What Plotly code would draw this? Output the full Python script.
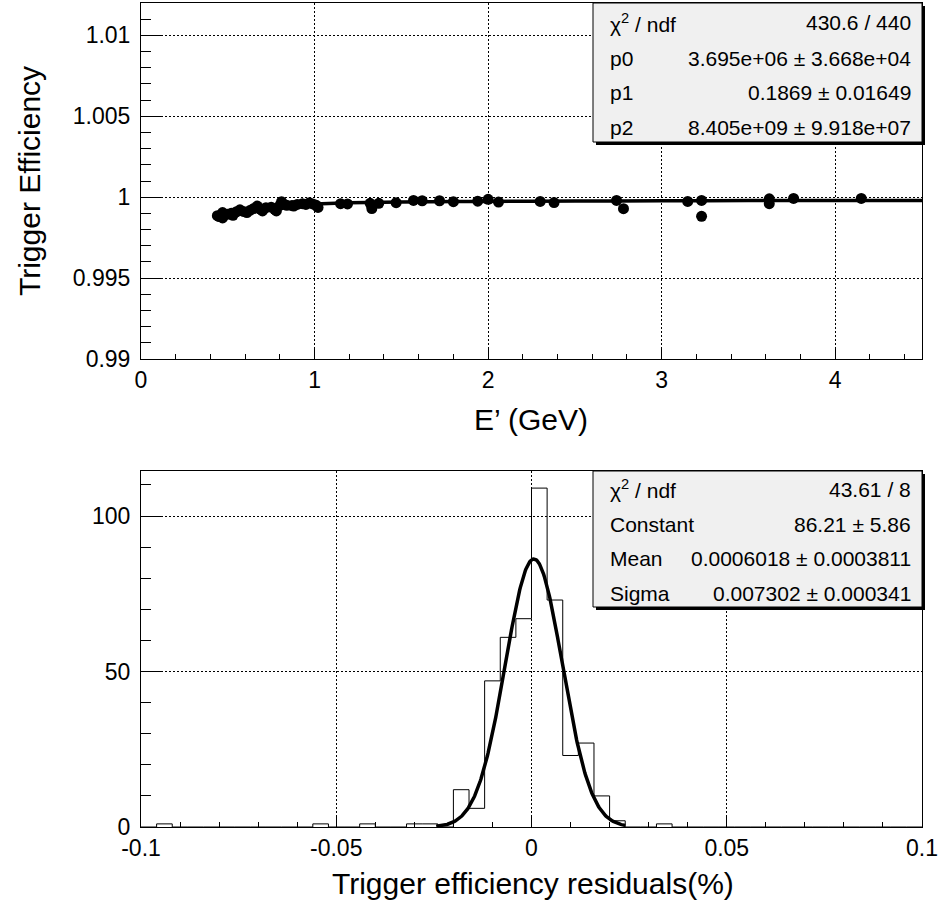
import numpy as np
import plotly.graph_objects as go

# ---------------- data ----------------
# Top panel: trigger efficiency vs E' (GeV)
e_prime = [0.44, 0.45, 0.47, 0.47, 0.50, 0.52, 0.53, 0.55, 0.57, 0.59,
           0.61, 0.63, 0.65, 0.67, 0.69, 0.70, 0.72, 0.75, 0.77, 0.78,
           0.80, 0.81, 0.84, 0.87, 0.88, 0.90, 0.93, 0.95, 0.97, 0.99,
           1.01, 1.02, 1.15, 1.19, 1.32, 1.33, 1.37, 1.47, 1.57, 1.62,
           1.72, 1.80, 1.94, 2.00, 2.06, 2.30, 2.38, 2.74, 2.78, 3.15,
           3.23, 3.23, 3.62, 3.62, 3.76, 4.15]
efficiency = [0.99886, 0.99880, 0.99872, 0.99905, 0.99895, 0.99900, 0.99888, 0.99910, 0.99922, 0.99912,
              0.99905, 0.99920, 0.99930, 0.99945, 0.99925, 0.99915, 0.99935, 0.99938, 0.99925, 0.99915,
              0.99950, 0.99972, 0.99950, 0.99948, 0.99945, 0.99955, 0.99960, 0.99955, 0.99965, 0.99958,
              0.99950, 0.99937, 0.99960, 0.99958, 0.99962, 0.99930, 0.99962, 0.99966, 0.99980, 0.99978,
              0.99978, 0.99972, 0.99975, 0.99987, 0.99970, 0.99974, 0.99967, 0.99980, 0.99929, 0.99974,
              0.99980, 0.99882, 0.99990, 0.99960, 0.99992, 0.99992]

# Fit curve of the top panel
fit_e = [0.43, 0.5, 0.6, 0.7, 0.8, 0.9, 1.0, 1.2, 1.5, 2.0, 2.5, 3.0, 3.5, 4.0, 4.5]
fit_eff = [0.99885, 0.99900, 0.99918, 0.99932, 0.99943, 0.99952, 0.99958, 0.99965,
           0.99970, 0.99974, 0.99976, 0.99978, 0.99979, 0.99980, 0.99980]

# Bottom panel: histogram of residuals, 50 bins on [-0.1, 0.1]
hist_lo, hist_hi, n_bins = -0.1, 0.1, 50
hist_counts = [0, 1, 0, 0, 0, 0, 0, 0, 0, 0,
               0, 1, 0, 0, 1, 0, 0, 1, 1, 0,
               12, 6, 47, 61, 67, 109, 73, 23, 27, 10,
               2, 0, 0, 1, 0, 0, 0, 0, 0, 0,
               0, 0, 0, 0, 0, 0, 0, 0, 0, 0]

# Gaussian fit parameters (as printed in the stats box)
gaus_const, gaus_mean, gaus_sigma = 86.21, 0.0006018, 0.007302
gaus_range = (-0.0244, 0.024)

top_stats = [("χ<sup>2</sup> / ndf", "430.6 / 440"),
             ("p0", "3.695e+06 ± 3.668e+04"),
             ("p1", "0.1869 ± 0.01649"),
             ("p2", "8.405e+09 ± 9.918e+07")]
bot_stats = [("χ<sup>2</sup> / ndf", "43.61 / 8"),
             ("Constant", "86.21 ± 5.86"),
             ("Mean", "0.0006018 ± 0.0003811"),
             ("Sigma", "0.007302 ± 0.000341")]

top_xticks = [0, 1, 2, 3, 4]
top_xtext = ["0", "1", "2", "3", "4"]
top_yticks = [0.99, 0.995, 1.0, 1.005, 1.01]
top_ytext = ["0.99", "0.995", "1", "1.005", "1.01"]
bot_xticks = [-0.1, -0.05, 0, 0.05, 0.1]
bot_xtext = ["-0.1", "-0.05", "0", "0.05", "0.1"]
bot_yticks = [0, 50, 100]
bot_ytext = ["0", "50", "100"]

# ---------------- layout geometry (pixels) ----------------
W, H = 941, 907
L, R, T, B = 141, 922, 3, 827
PW, PH = R - L, B - T


def px(x):
    return (x - L) / PW


def py(y):
    return (B - y) / PH


FONT = "Liberation Sans, Arial, Helvetica, sans-serif"

fig = go.Figure()

# top panel
fig.add_trace(go.Scatter(x=fit_e, y=fit_eff, mode="lines", line=dict(color="black", width=3.5, shape="spline"),
                         xaxis="x", yaxis="y", showlegend=False, hoverinfo="skip"))
fig.add_trace(go.Scatter(x=e_prime, y=efficiency, mode="markers",
                         marker=dict(color="black", size=11), xaxis="x", yaxis="y", showlegend=False))

# bottom panel histogram (step outline)
edges = np.linspace(hist_lo, hist_hi, n_bins + 1)
step_y = list(hist_counts) + [hist_counts[-1]]
fig.add_trace(go.Scatter(x=edges, y=step_y, mode="lines", line=dict(color="black", width=1, shape="hv"),
                         xaxis="x2", yaxis="y2", showlegend=False))
gx = np.linspace(gaus_range[0], gaus_range[1], 300)
gy = gaus_const * np.exp(-0.5 * ((gx - gaus_mean) / gaus_sigma) ** 2)
fig.add_trace(go.Scatter(x=gx, y=gy, mode="lines", line=dict(color="black", width=3.5),
                         xaxis="x2", yaxis="y2", showlegend=False))

axis_common = dict(showline=True, linecolor="black", linewidth=1, mirror=True,
                   ticks="inside", tickcolor="black", tickwidth=1,
                   showgrid=True, gridcolor="black", gridwidth=1, griddash="2px,2px",
                   zeroline=False, tickfont=dict(family=FONT, size=23, color="black"),
                   tickmode="array")

fig.update_layout(
    width=W, height=H,
    margin=dict(l=L, r=W - R, t=T, b=H - B),
    paper_bgcolor="white", plot_bgcolor="white",
    font=dict(family=FONT, color="black"),
    xaxis=dict(domain=[0, 1], range=[0, 4.5], anchor="y", tickvals=top_xticks, ticktext=top_xtext,
               ticklen=10, ticklabelstandoff=0,
               minor=dict(ticks="inside", ticklen=5, dtick=0.2, tick0=0, tickcolor="black", showgrid=False),
               **axis_common),
    yaxis=dict(domain=[py(359), 1], range=[0.99, 1.012], anchor="x", tickvals=top_yticks, ticktext=top_ytext,
               ticklen=20, ticklabelstandoff=5,
               minor=dict(ticks="inside", ticklen=10, dtick=0.001, tick0=0.99, tickcolor="black", showgrid=False),
               **axis_common),
    xaxis2=dict(domain=[0, 1], range=[hist_lo, hist_hi], anchor="y2", tickvals=bot_xticks, ticktext=bot_xtext,
                ticklen=10, ticklabelstandoff=0,
                minor=dict(ticks="inside", ticklen=5, dtick=0.01, tick0=-0.1, tickcolor="black", showgrid=False),
                **axis_common),
    yaxis2=dict(domain=[0, py(471)], range=[0, 114.5], anchor="x2", tickvals=bot_yticks, ticktext=bot_ytext,
                ticklen=20, ticklabelstandoff=5,
                minor=dict(ticks="inside", ticklen=10, dtick=10, tick0=0, tickcolor="black", showgrid=False),
                **axis_common),
)

shapes = []
annotations = []


def stats_box(x0, y0, x1, y1, rows, row_ys):
    shapes.append(dict(type="rect", xref="paper", yref="paper",
                       x0=px(x0 + 3), x1=px(x1 + 3), y0=py(y1 + 3), y1=py(y0 + 3),
                       fillcolor="black", line=dict(width=0), layer="above"))
    shapes.append(dict(type="rect", xref="paper", yref="paper",
                       x0=px(x0), x1=px(x1), y0=py(y1), y1=py(y0),
                       fillcolor="#f0f0f0", line=dict(color="black", width=1), layer="above"))
    for (lab, val), yy in zip(rows, row_ys):
        annotations.append(dict(xref="paper", yref="paper", x=px(x0 + 15), y=py(yy), text=lab,
                                showarrow=False, xanchor="left", yanchor="middle",
                                font=dict(family=FONT, size=21, color="black")))
        annotations.append(dict(xref="paper", yref="paper", x=px(x1 - 9), y=py(yy), text=val,
                                showarrow=False, xanchor="right", yanchor="middle",
                                font=dict(family=FONT, size=21, color="black")))


stats_box(593, 3, 922, 142, top_stats, [23, 58, 93, 128])
stats_box(593, 471, 922, 607, bot_stats, [489, 524, 559, 593])

# axis titles
annotations.append(dict(xref="paper", yref="paper", x=px(531), y=py(419), text="E’ (GeV)", showarrow=False,
                        xanchor="center", yanchor="middle", font=dict(family=FONT, size=30, color="black")))
annotations.append(dict(xref="paper", yref="paper", x=px(533), y=py(884), text="Trigger efficiency residuals(%)",
                        showarrow=False, xanchor="center", yanchor="middle",
                        font=dict(family=FONT, size=30, color="black")))
annotations.append(dict(xref="paper", yref="paper", x=px(29), y=py(181), text="Trigger Efficiency", showarrow=False,
                        textangle=-90, xanchor="center", yanchor="middle",
                        font=dict(family=FONT, size=30, color="black")))

fig.update_layout(shapes=shapes, annotations=annotations)

fig.write_html("out.html", config={"displayModeBar": False},
               post_script="document.body.style.margin='0px';")
